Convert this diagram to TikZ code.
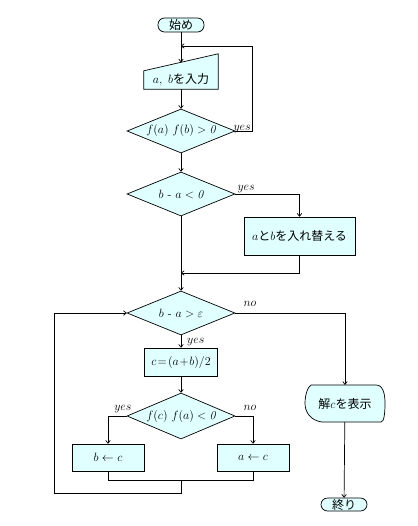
\documentclass[tikz,border=0pt]{standalone}
\usepackage{fontspec}
\newfontfamily\jp{Noto Sans CJK JP}
\usetikzlibrary{shapes.geometric,arrows.meta,calc,backgrounds}
\definecolor{boxfill}{RGB}{224,255,255}
\begin{document}
\begin{tikzpicture}[x=1pt,y=-1pt,
 every node/.style={font=\fontsize{12}{14}\selectfont},
 base/.style={draw, fill=boxfill, line width=0.7pt},
 proc/.style={base, rectangle, inner sep=0pt},
 term/.style={base, rounded corners=6.5pt, inner sep=0pt, minimum width=46pt, minimum height=14pt},
 dec/.style={base, diamond, aspect=2.5, inner sep=0pt, minimum width=108pt, minimum height=44pt},
 plain/.style={inner sep=0pt},
 lbl/.style={inner sep=0pt, font=\fontsize{11.5}{13}\selectfont},
 line/.style={line width=0.7pt},
 arr/.style={line, -{To[length=3.5pt,width=5pt]}}]
\path[use as bounding box] (0,0) rectangle (417,526);

% nodes
\node[term] (start) at (181,25) {\jp 始め};
\node[plain, minimum width=74pt, minimum height=18pt] (input) at (181,80) {$a,\ b${\jp を入力}};
\node[dec] (d1) at (181,131) {$f(a)\ f(b) > \mathit{0}$};
\node[dec] (d2) at (181,194) {$b$ - $a < \mathit{0}$};
\node[proc, minimum width=111pt, minimum height=38pt] (swap) at (299.5,236) {$a${\jp と}$b${\jp を入れ替える}};
\node[dec] (d3) at (181,313) {$b$ - $a > \varepsilon$};
\node[proc, minimum width=73pt, minimum height=28pt] (calc) at (181,362) {$c\!=\!(a\!+\!b)/2$};
\node[dec, minimum height=46pt] (d4) at (181,416) {$f(c)\ f(a) < \mathit{0}$};
\node[proc, minimum width=72pt, minimum height=27pt] (bbox) at (108,457.5) {$b \leftarrow c$};
\node[proc, minimum width=72pt, minimum height=27pt] (abox) at (253,457.5) {$a \leftarrow c$};
\node[plain, minimum width=80pt, minimum height=37pt] (disp) at (345,403.5) {{\jp 解}$c${\jp を表示}};
\node[term, minimum height=13pt] (end) at (344,504.5) {\jp 終り};

% custom shapes
\begin{scope}[on background layer]
\filldraw[base] (input.south west) -- (input.south east) -- ($(input.north east)+(0,-17)$) -- (input.north west) -- cycle;
\filldraw[base, shift={(disp.center)}] (-34,-18.5) -- (31,-18.5) .. controls (38,-18.5) and (40,-10) .. (40,0) .. controls (40,10) and (39,18.5) .. (36,18.5) -- (-23,18.5) .. controls (-35,17) and (-40,8) .. (-40,0) .. controls (-40,-9) and (-37,-17) .. (-34,-18.5) -- cycle;
\end{scope}

% labels
\node[lbl, anchor=base west] (y1) at ($(d1.east)+(-2,0)$) {$yes$};
\node[lbl, anchor=base west] (y2) at ($(d2.east)+(2,-3)$) {$yes$};
\node[lbl, anchor=base west] (n3) at ($(d3.east)+(8,-7)$) {$no$};
\node[lbl, anchor=base west] (y3) at ($(d3.south)+(6,8)$) {$yes$};
\node[lbl, anchor=base east] (y4) at ($(d4.west)+(5,-6)$) {$yes$};
\node[lbl, anchor=base west] (n4) at ($(d4.east)+(8,-6)$) {$no$};

% coordinates
\coordinate (inTop) at ($(input.north)+(0,-8.5)$);
\coordinate (j1) at (181,46);
\coordinate (j2) at (181,273);
\coordinate (m3) at (181,480);
\coordinate (lb) at (54,493);

% connectors
\draw[arr] (start) -- (inTop);
\draw[arr] (input) -- (d1);
\draw[arr] (d1.east) -- ++(17,0) |- (j1);
\draw[arr] (d1) -- (d2);
\draw[arr] (d2.east) -| (swap.north);
\draw[arr] (swap.south) |- (j2);
\draw[arr] (d2) -- (d3);
\draw[arr] (d3.east) -| (disp.north);
\draw[arr] (d3) -- (calc);
\draw[arr] (calc) -- (d4);
\draw[arr] (d4.west) -| (bbox.north);
\draw[arr] (d4.east) -| (abox.north);
\draw[line] (bbox.south) -- ++(0,9) -| (abox.south);
\draw[arr] (m3) |- (lb) |- (d3.west);
\draw[arr] (disp) -- (end);
\end{tikzpicture}
\end{document}
